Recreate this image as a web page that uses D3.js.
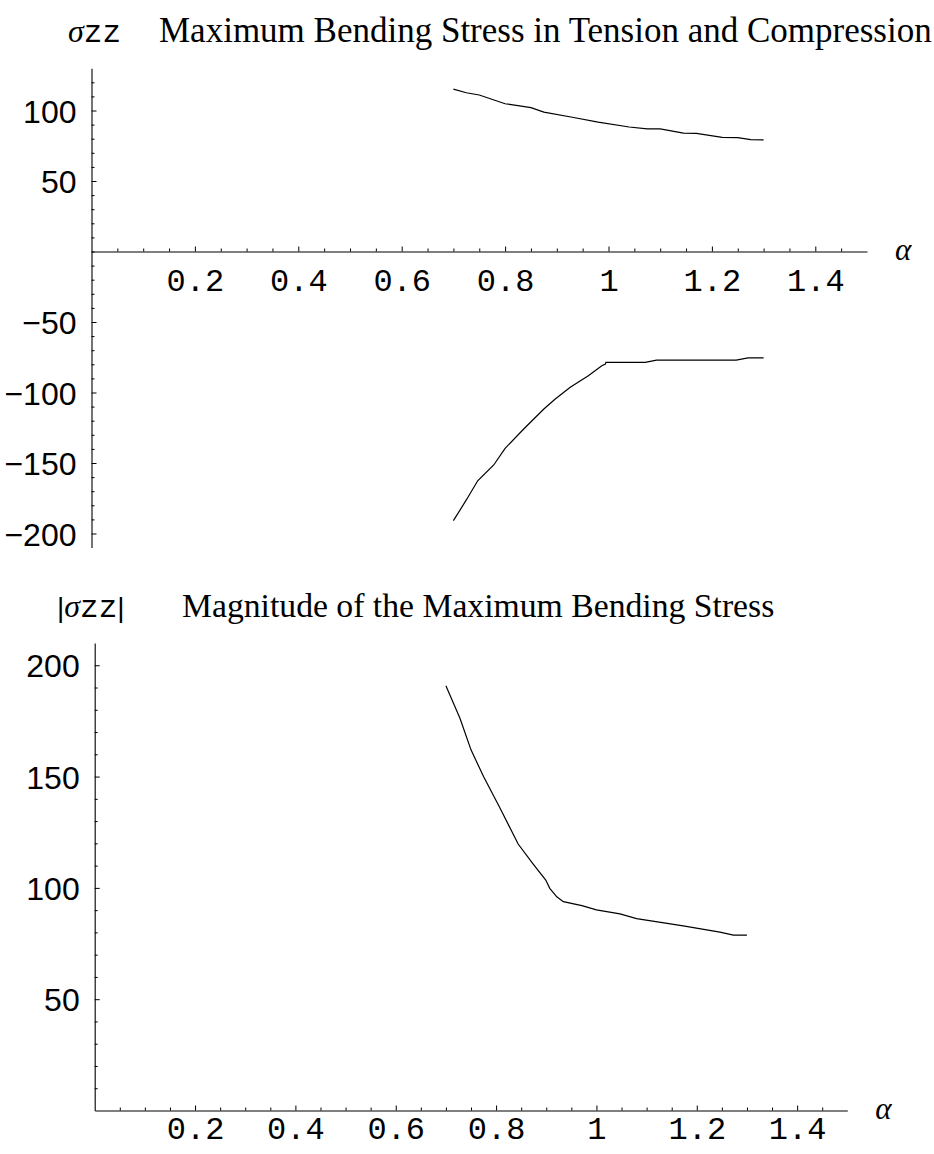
<!DOCTYPE html>
<html>
<head>
<meta charset="utf-8">
<script src="https://cdn.jsdelivr.net/npm/d3@7"></script>
<style>
  body { margin: 0; background: #fff; }
  svg { display: block; }
</style>
</head>
<body>
<svg id="chart" width="934" height="1154"></svg>
<script>
// values
const tensionAlpha = [0.70, 0.725, 0.75, 0.80, 0.85, 0.875, 0.93, 0.98, 1.04, 1.075, 1.10, 1.145, 1.17, 1.22, 1.25, 1.275, 1.30];
const tension = [115.2, 112.6, 111.0, 104.8, 102.0, 98.9, 95.2, 91.8, 88.3, 86.9, 86.9, 84.0, 83.8, 81.0, 80.7, 79.3, 79.1];

const compressionAlpha = [0.70, 0.725, 0.747, 0.778, 0.80, 0.836, 0.875, 0.897, 0.926, 0.961, 0.987, 0.994, 0.995, 1.071, 1.093, 1.247, 1.27, 1.30];
const compression = [-190.9, -176.2, -162.6, -151.4, -139.6, -125.9, -111.7, -104.6, -96.3, -88.1, -81.0, -79.8, -78.6, -78.6, -77.0, -77.0, -75.5, -75.5];

const magnitudeAlpha = [0.70, 0.728, 0.75, 0.775, 0.808, 0.844, 0.874, 0.899, 0.907, 0.921, 0.934, 0.971, 1.0, 1.047, 1.08, 1.173, 1.246, 1.273, 1.30];
const magnitude = [190.8, 176.2, 162.0, 150.0, 135.8, 119.7, 110.7, 103.5, 99.8, 96.0, 93.8, 92.0, 90.1, 88.3, 86.2, 82.9, 80.1, 78.8, 78.8];

const xMajor = [0.2, 0.4, 0.6, 0.8, 1.0, 1.2, 1.4];
const topYMajor = [-200, -150, -100, -50, 50, 100];
const bottomYMajor = [50, 100, 150, 200];

const svg = d3.select("#chart");
const mono = "'Liberation Mono', 'Courier New', monospace";
const sans = "'Liberation Sans', Arial, sans-serif";
const serif = "'Liberation Serif', 'Times New Roman', serif";

function range(a, b, step) {
  const out = [];
  for (let v = a; v <= b + 1e-9; v += step) out.push(+v.toFixed(4));
  return out;
}

function fmtX(d) {
  return d === 1 ? "1" : String(d);
}
function fmtY(d) {
  return d < 0 ? "\u2212" + Math.abs(d) : String(d);
}

// draws one panel: axes crossing at 0, mathematica-like inward ticks
function panel(opts) {
  const { x, y, yMinor, yMajor, xLabelY } = opts;
  const g = svg.append("g");
  const x0 = x(0), y0 = y(0);

  // minor ticks
  g.append("g")
    .attr("transform", `translate(0,${y0})`)
    .call(d3.axisBottom(x).tickValues(range(0.05, 1.45, 0.05).filter((v) => !xMajor.some((m) => Math.abs(m - v) < 1e-6)))
      .tickSize(-3).tickSizeOuter(0).tickFormat(""))
    .call((s) => s.select(".domain").remove());
  g.append("g")
    .attr("transform", `translate(${x0},0)`)
    .call(d3.axisLeft(y).tickValues(yMinor.filter((v) => !yMajor.includes(v)))
      .tickSize(-3).tickSizeOuter(0).tickFormat(""))
    .call((s) => s.select(".domain").remove());

  // major x ticks + labels
  const gx = g.append("g")
    .attr("transform", `translate(0,${y0})`)
    .call(d3.axisBottom(x).tickValues(xMajor).tickSize(-5).tickSizeOuter(0).tickFormat(fmtX).tickPadding(0));
  gx.selectAll(".tick text")
    .attr("y", xLabelY - y0).attr("dy", null)
    .style("font-family", mono).style("font-size", "32px").attr("fill", "#000");

  // major y ticks + labels
  const gy = g.append("g")
    .attr("transform", `translate(${x0},0)`)
    .call(d3.axisLeft(y).tickValues(yMajor).tickSize(-5).tickSizeOuter(0).tickFormat(fmtY).tickPadding(15));
  gy.selectAll(".tick text")
    .attr("dy", "0.36em")
    .style("font-family", sans).style("font-size", "32px").attr("fill", "#000");

  g.selectAll(".domain").attr("stroke", "#000").attr("stroke-width", 1.1);
  g.selectAll(".tick line").attr("stroke", "#000").attr("stroke-width", 1);

  // alpha label
  g.append("text")
    .attr("x", x.range()[1] + 28).attr("y", y0 + 8)
    .style("font-family", serif).style("font-style", "italic").style("font-size", "31px")
    .text("\u03b1");
  return g;
}

function curve(g, x, y, xs, ys) {
  const pts = xs.map((a, i) => [a, ys[i]]);
  g.append("path")
    .datum(pts)
    .attr("fill", "none")
    .attr("stroke", "#000")
    .attr("stroke-width", 1.2)
    .attr("d", d3.line().x((d) => x(d[0])).y((d) => y(d[1])));
}

function sigmaLabel(xPos, yPos, bars) {
  const t = svg.append("text").attr("x", xPos).attr("y", yPos);
  if (bars) t.append("tspan").style("font-family", sans).style("font-size", "28px").text("|");
  t.append("tspan").style("font-family", serif).style("font-style", "italic").style("font-size", "32px").text("\u03c3");
  t.append("tspan").style("font-family", mono).style("font-size", "31px").text("zz");
  if (bars) t.append("tspan").style("font-family", sans).style("font-size", "28px").text("|");
}

// ---- top panel: tension and compression ----
const xTop = d3.scaleLinear().domain([0, 1.5]).range([91.5, 867]);
const yTop = d3.scaleLinear().domain([-210, 130]).range([547.6, 68.2]);
const gTop = panel({ x: xTop, y: yTop, yMinor: range(-200, 120, 10), yMajor: topYMajor, xLabelY: 291 });
curve(gTop, xTop, yTop, tensionAlpha, tension);
curve(gTop, xTop, yTop, compressionAlpha, compression);

sigmaLabel(68, 42, false);
svg.append("text")
  .attr("x", 159).attr("y", 42)
  .style("font-family", serif).style("font-size", "35px")
  .text("Maximum Bending Stress in Tension and Compression");

// ---- bottom panel: magnitude ----
const xBot = d3.scaleLinear().domain([0, 1.5]).range([94.7, 847.3]);
const yBot = d3.scaleLinear().domain([0, 210]).range([1110.5, 643]);
const gBot = panel({ x: xBot, y: yBot, yMinor: range(10, 200, 10), yMajor: bottomYMajor, xLabelY: 1139 });
curve(gBot, xBot, yBot, magnitudeAlpha, magnitude);

sigmaLabel(57, 617, true);
svg.append("text")
  .attr("x", 182).attr("y", 617)
  .style("font-family", serif).style("font-size", "33.7px")
  .text("Magnitude of the Maximum Bending Stress");
</script>
</body>
</html>
